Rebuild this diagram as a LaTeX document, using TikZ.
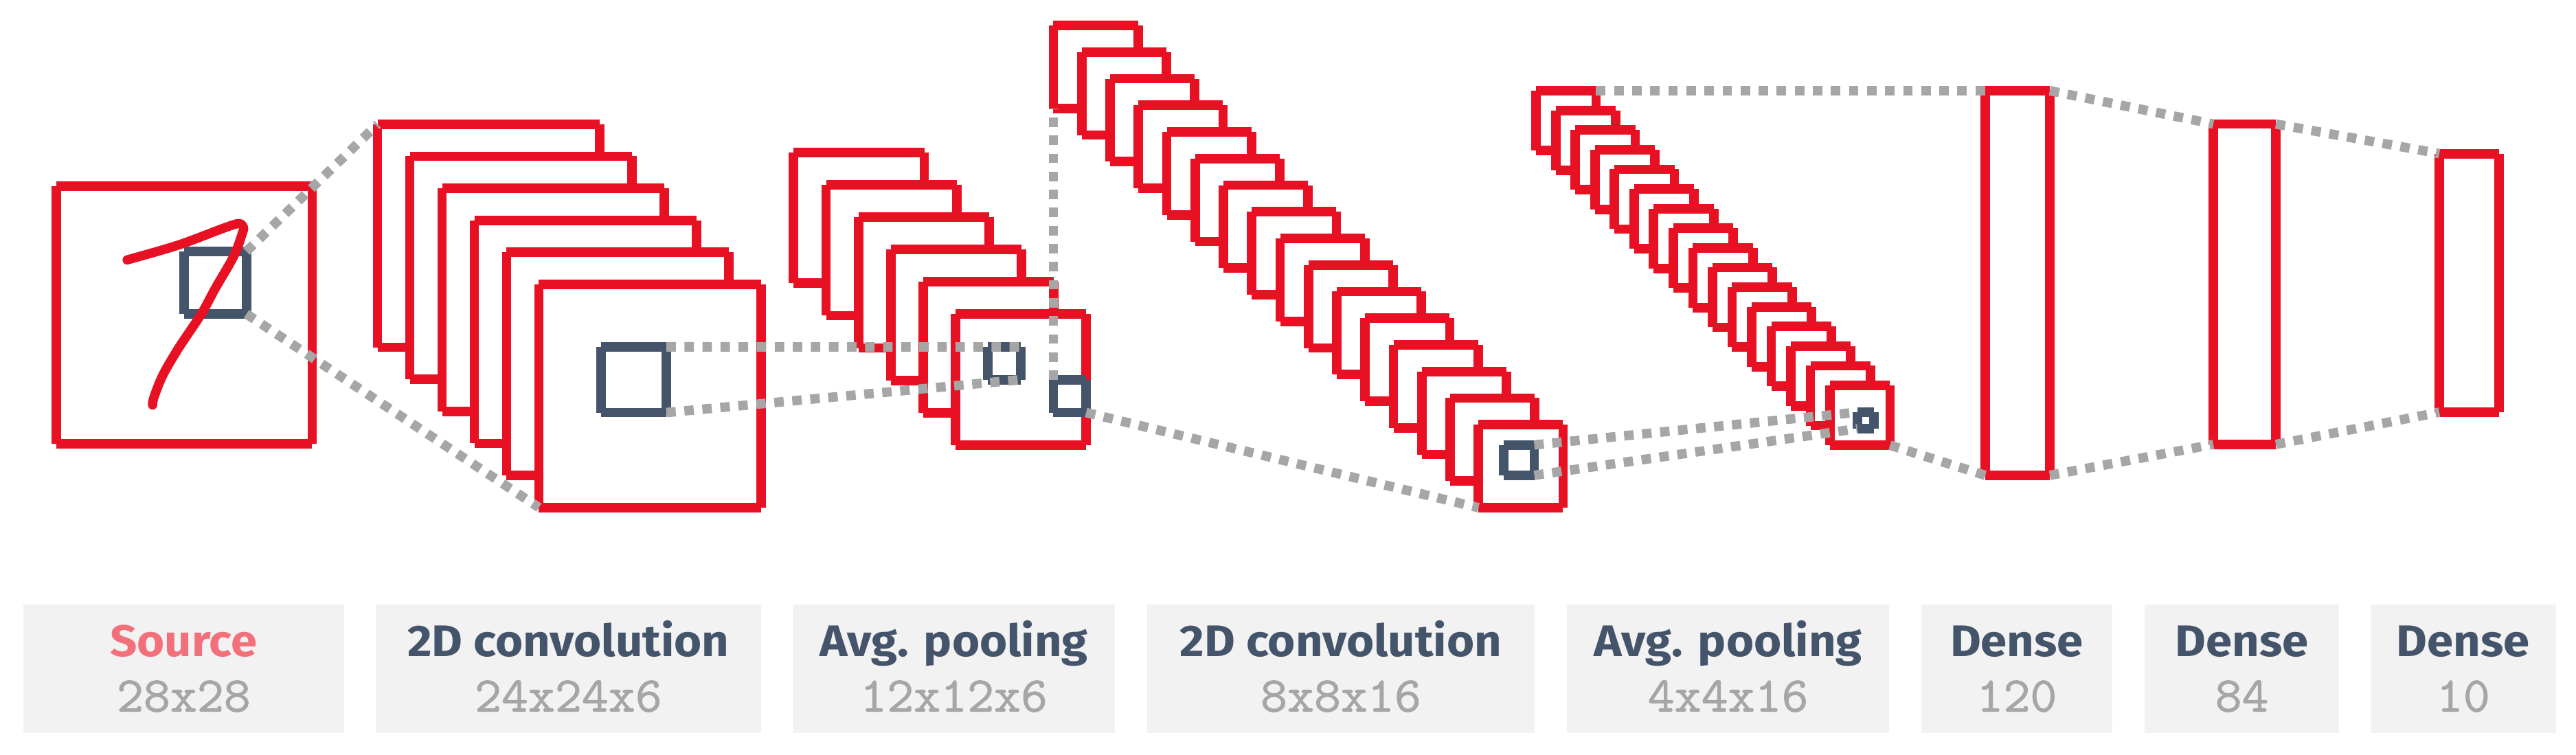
\documentclass[tikz,border=0pt]{standalone}
\usepackage{fontspec}
\setsansfont{Fira Sans}[FakeStretch=1.07]
\setmonofont{Latin Modern Mono}[FakeBold=1.4,FakeStretch=1.05]
\usetikzlibrary{calc}
\definecolor{cnnred}{HTML}{E81123}
\definecolor{cnndark}{HTML}{44546A}
\definecolor{cnngray}{HTML}{A6A6A6}
\definecolor{cnnbg}{HTML}{F2F2F2}
\definecolor{cnnpink}{HTML}{F1707B}
\newlength\lwd
\setlength\lwd{1.38mm}
\newcommand\drawsides[2]{\draw[line width=\lwd,#2,line cap=butt] (#1.north west) -- (#1.north east) (#1.north east) -- (#1.south east) (#1.south east) -- (#1.south west) (#1.south west) -- (#1.north west);}
\tikzset{
  sz/.style 2 args={minimum width=#1*0.23916mm, minimum height=#2*0.23916mm},
  layerbox/.style={rectangle, draw=none, fill=white, outer sep=0pt, inner sep=0pt, anchor=north west},
  filt/.style={rectangle, draw=none, outer sep=0pt, inner sep=0pt, anchor=north west},
  link/.style={draw=cnngray, line width=\lwd, dash pattern=on 1.38mm off 1.25mm, line cap=butt},
  labelbg/.style={rectangle, fill=cnnbg, draw=none, inner sep=0pt, outer sep=0pt, anchor=north west},
  ttl/.style={anchor=base, font=\fontsize{18.3pt}{20pt}\selectfont\sffamily\bfseries, text=cnndark, inner sep=0pt},
  dimtxt/.style={anchor=base, font=\fontsize{20.5pt}{22pt}\selectfont\ttfamily, text=cnngray, inner sep=0pt},
}
\begin{document}
\begin{tikzpicture}[x=0.23916mm, y=-0.23916mm]
\useasboundingbox (0,0) rectangle (1568,459.5);

% ---- source
\node[layerbox, sz={155.7}{156.7}] (src) at (34.3,113.3) {};
\drawsides{src}{cnnred}
\node[filt, sz={37.9}{38.1}] (srcf) at (112.1,153) {};
\drawsides{srcf}{cnndark}
\draw[cnnred, line width=1.35mm, line cap=round, line join=round]
  plot[smooth, tension=0.55] coordinates {(77.4,158.2) (108.7,149.1) (136.6,138.7) (145.3,136.1) (148.2,138.3) (147.4,142.3) (142.2,156.1) (131,175.6) (122.6,191) (108.7,211.9) (99,228.6) (93.6,242.2) (92.9,246.5)};

% ---- conv1 stack
\foreach \k in {0,...,5}{
  \node[layerbox, sz={135.2}{135.8}] (c1-\k) at ({229.8+19.64*\k},{75.6+19.5*\k}) {};
  \drawsides{c1-\k}{cnnred}
}
\node[filt, sz={39.7}{40}] (c1f) at (365.9,211.1) {};
\drawsides{c1f}{cnndark}

% ---- pool1 stack
\foreach \k in {0,...,5}{
  \node[layerbox, sz={79.5}{79.7}] (p1-\k) at ({483.1+19.7*\k},{92.7+19.7*\k}) {};
  \drawsides{p1-\k}{cnnred}
}
\node[filt, sz={20.1}{19.9}] (p1fa) at (601.3,211.2) {};
\drawsides{p1fa}{cnndark}
\node[filt, sz={19.9}{19.9}] (p1fb) at (641.2,231.2) {};
\drawsides{p1fb}{cnndark}

% ---- conv2 stack
\foreach \k in {0,...,15}{
  \node[layerbox, sz={51.5}{50.5}] (c2-\k) at ({641.2+17.25*\k},{15.5+16.2*\k}) {};
  \drawsides{c2-\k}{cnnred}
}
\node[filt, sz={18.5}{18.5}] (c2f) at (915.4,270.8) {};
\drawsides{c2f}{cnndark}

% ---- pool2 stack
\foreach \k in {0,...,15}{
  \node[layerbox, sz={36.5}{36.4}] (p2-\k) at ({935+11.93*\k},{55.2+11.96*\k}) {};
  \drawsides{p2-\k}{cnnred}
}
\node[filt, sz={10}{10}] (p2f) at (1130.6,250.9) {};
\drawsides{p2f}{cnndark}

% ---- dense layers
\node[layerbox, sz={39.3}{234.1}] (d1) at (1208.4,55.2) {};
\drawsides{d1}{cnnred}
\node[layerbox, sz={38.1}{195}] (d2) at (1347.2,75.5) {};
\drawsides{d2}{cnnred}
\node[layerbox, sz={36.4}{157.4}] (d3) at (1484.8,93.5) {};
\drawsides{d3}{cnnred}

% ---- connectors
\draw[link] (srcf.north east) -- (c1-0.north west);
\draw[link] (srcf.south east) -- (c1-5.south west);
\draw[link] (c1f.north east) -- (p1fa.north east);
\draw[link] (c1f.south east) -- (p1fa.south east);
\draw[link] (p1fb.north west) -- (c2-0.south west);
\draw[link] (p1fb.south east) -- (c2-15.south west);
\draw[link] (c2f.north east) -- (p2f.north west);
\draw[link] (c2f.south east) -- (p2f.south west);
\draw[link] (p2-0.north east) -- (d1.north west);
\draw[link] (p2-15.south east) -- (d1.south west);
\draw[link] (d1.north east) -- (d2.north west);
\draw[link] (d1.south east) -- (d2.south west);
\draw[link] (d2.north east) -- (d3.north west);
\draw[link] (d2.south east) -- (d3.south west);

% ---- labels
\node[labelbg, sz={195}{78}] (l-src) at (14.3,368) {};
\node[ttl, text=cnnpink] (t-src) at (111.8,399.6) {Source};
\node[dimtxt] (n-src) at (111.8,433) {28x28};

\node[labelbg, sz={234.7}{78}] (l-c1) at (228.6,368) {};
\node[ttl] (t-c1) at (345.95,399.6) {2D convolution};
\node[dimtxt] (n-c1) at (345.95,433) {24x24x6};

\node[labelbg, sz={196}{78}] (l-p1) at (482.6,368) {};
\node[ttl] (t-p1) at (580.6,399.6) {Avg. pooling};
\node[dimtxt] (n-p1) at (580.6,433) {12x12x6};

\node[labelbg, sz={235.7}{78}] (l-c2) at (698.3,368) {};
\node[ttl] (t-c2) at (816.15,399.6) {2D convolution};
\node[dimtxt] (n-c2) at (816.15,433) {8x8x16};

\node[labelbg, sz={196.3}{78}] (l-p2) at (953.7,368) {};
\node[ttl] (t-p2) at (1051.85,399.6) {Avg. pooling};
\node[dimtxt] (n-p2) at (1051.85,433) {4x4x16};

\node[labelbg, sz={116.2}{78}] (l-d1) at (1169.5,368) {};
\node[ttl] (t-d1) at (1227.6,399.6) {Dense};
\node[dimtxt] (n-d1) at (1227.6,433) {120};

\node[labelbg, sz={118}{78}] (l-d2) at (1305.6,368) {};
\node[ttl] (t-d2) at (1364.6,399.6) {Dense};
\node[dimtxt] (n-d2) at (1364.6,433) {84};

\node[labelbg, sz={112.7}{78}] (l-d3) at (1443,368) {};
\node[ttl] (t-d3) at (1499.35,399.6) {Dense};
\node[dimtxt] (n-d3) at (1499.35,433) {10};
\end{tikzpicture}
\end{document}
